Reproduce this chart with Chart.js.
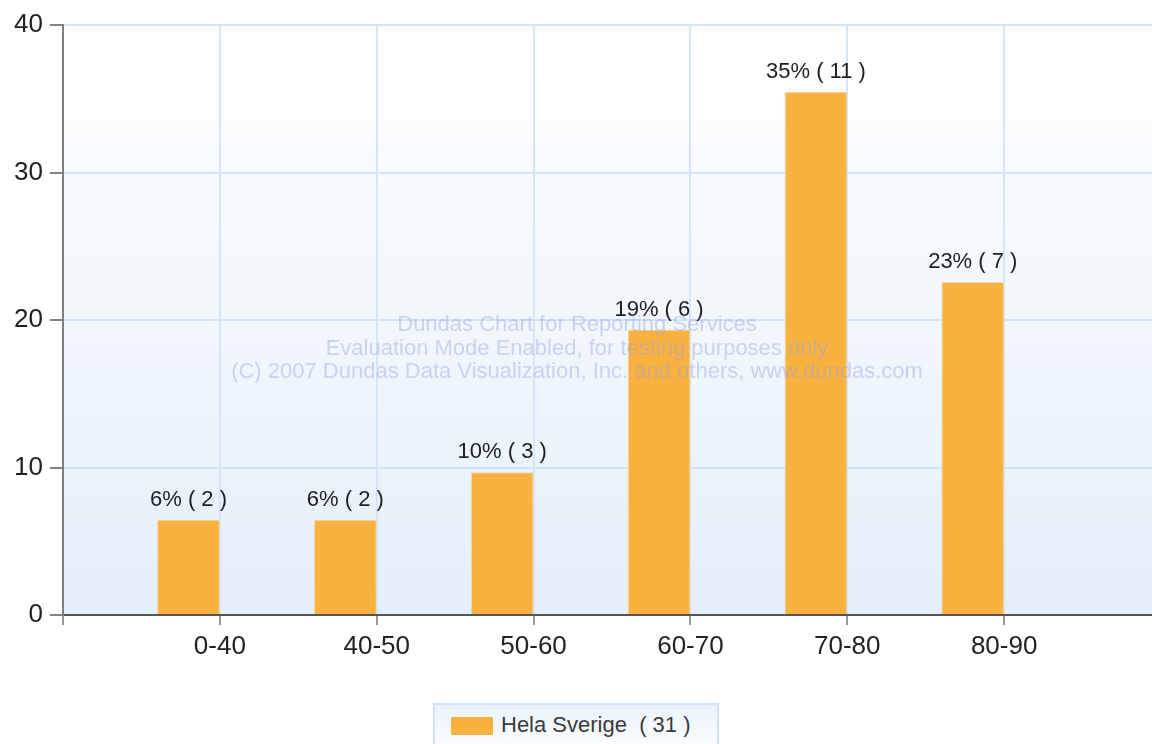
<!DOCTYPE html>
<html>
<head>
<meta charset="utf-8">
<script src="https://cdn.jsdelivr.net/npm/chart.js@4.4.1/dist/chart.umd.min.js"></script>
<style>
  html, body { margin: 0; padding: 0; background: #ffffff; overflow: hidden; width: 1152px; height: 744px; }
  #wrap { position: absolute; left: 0; top: 0; width: 1167px; height: 700px; }
  #legend {
    position: absolute; left: 433px; top: 703px; width: 282px; height: 48px;
    border: 2px solid #d2e3f8; border-bottom: none;
    background: linear-gradient(#eaf3fd, #ffffff);
    font-family: "Liberation Sans", Arial, sans-serif; font-size: 22px; color: #3a3a3a;
  }
  #legend .sw { position: absolute; left: 16px; top: 12px; width: 42px; height: 18px; background: #f9b23f; }
  #legend .tx { position: absolute; left: 66px; top: 7px; white-space: pre; }
</style>
</head>
<body>
<div id="wrap"><canvas id="c"></canvas></div>
<div id="legend"><div class="sw"></div><div class="tx" id="legendText"></div></div>
<script>
// ---- data ----
const categories = ['', '0-40', '40-50', '50-60', '60-70', '70-80', '80-90', ''];
const percentValues = [null, 6.45, 6.45, 9.68, 19.35, 35.48, 22.58, null];
const counts = [null, 2, 2, 3, 6, 11, 7, null];
const seriesName = 'Hela Sverige';
const seriesTotal = 31;
const yTicks = [0, 10, 20, 30, 40];
const watermarkLines = [
  'Dundas Chart for Reporting Services',
  'Evaluation Mode Enabled, for testing purposes only',
  '(C) 2007 Dundas Data Visualization, Inc. and others, www.dundas.com'
];

document.getElementById('legendText').textContent = seriesName + '  ( ' + seriesTotal + ' )';

const FONT = '"Liberation Sans", Arial, sans-serif';

const bgPlugin = {
  id: 'bg',
  beforeDraw(chart) {
    const a = chart.chartArea, ctx = chart.ctx;
    const g = ctx.createLinearGradient(0, a.top, 0, a.bottom);
    g.addColorStop(0, '#ffffff');
    g.addColorStop(1, '#e4effa');
    ctx.save();
    ctx.fillStyle = g;
    ctx.fillRect(a.left, a.top, a.right - a.left, a.bottom - a.top);
    ctx.restore();
  }
};

const overlayPlugin = {
  id: 'overlay',
  afterDatasetsDraw(chart) {
    const ctx = chart.ctx;
    ctx.save();
    // watermark
    ctx.font = '22px ' + FONT;
    ctx.fillStyle = 'rgba(150,160,225,0.42)';
    ctx.textAlign = 'center';
    ctx.textBaseline = 'middle';
    watermarkLines.forEach((t, i) => ctx.fillText(t, 577, 325 + i * 23.5));
    // data labels
    const meta = chart.getDatasetMeta(0);
    ctx.font = '22px ' + FONT;
    ctx.fillStyle = '#1e1e1e';
    ctx.textBaseline = 'bottom';
    meta.data.forEach((bar, i) => {
      const v = percentValues[i];
      if (v == null) return;
      const p = bar.getProps(['x', 'y', 'width'], true);
      ctx.fillText(Math.round(v) + '% ( ' + counts[i] + ' )', p.x, p.y - 9);
    });
    ctx.restore();
  }
};

new Chart(document.getElementById('c'), {
  type: 'bar',
  data: {
    labels: categories,
    datasets: [
      {
        label: seriesName,
        data: percentValues,
        backgroundColor: '#f9b23f',
        borderColor: '#f6d8a6',
        borderWidth: 1,
        categoryPercentage: 0.8,
        barPercentage: 1.0
      },
      {
        label: '',
        data: categories.map(() => null),
        backgroundColor: 'rgba(0,0,0,0)',
        categoryPercentage: 0.8,
        barPercentage: 1.0
      }
    ]
  },
  options: {
    responsive: true,
    maintainAspectRatio: false,
    animation: false,
    layout: { padding: { top: 25, left: 0, right: 0, bottom: 0 } },
    plugins: {
      legend: { display: false },
      tooltip: { enabled: false }
    },
    scales: {
      x: {
        type: 'category',
        offset: false,
        grid: {
          offset: false,
          color: '#d6e5f8',
          lineWidth: 2,
          drawTicks: true,
          tickLength: 10,
          tickColor: '#9a9a9a',
          tickWidth: 2
        },
        border: { color: '#555555', width: 2 },
        ticks: {
          autoSkip: false,
          maxRotation: 0,
          padding: 6,
          color: '#222',
          font: { family: FONT, size: 26 }
        },
        afterFit(scale) { scale.height = 85; }
      },
      y: {
        min: 0,
        max: 40,
        afterBuildTicks(scale) { scale.ticks = yTicks.map(v => ({ value: v })); },
        grid: {
          color: '#d3e3f8',
          lineWidth: 2,
          drawTicks: true,
          tickLength: 13,
          tickColor: '#808080',
          tickWidth: 2
        },
        border: { color: '#7f7f7f', width: 2 },
        ticks: {
          padding: 7,
          color: '#222',
          font: { family: FONT, size: 26 }
        },
        afterFit(scale) { scale.width = 63; }
      }
    }
  },
  plugins: [bgPlugin, overlayPlugin]
});
</script>
</body>
</html>
